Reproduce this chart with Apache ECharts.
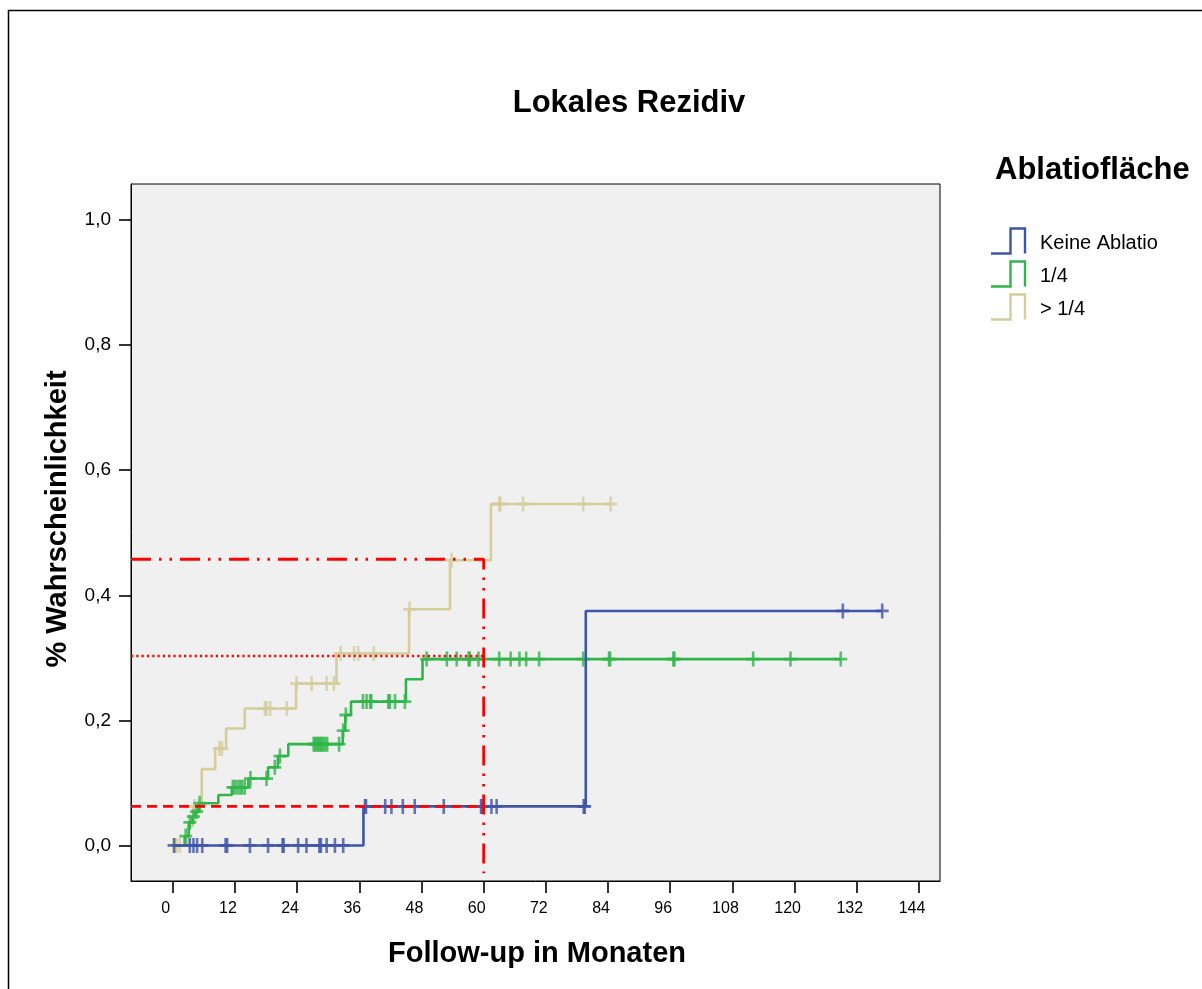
<!DOCTYPE html>
<html>
<head>
<meta charset="utf-8">
<script src="https://cdn.jsdelivr.net/npm/echarts@6/dist/echarts.min.js"></script>
<style>
  html, body { margin: 0; padding: 0; background: #ffffff; }
  #chart { width: 1202px; height: 989px; }
</style>
</head>
<body>
<div id="chart"></div>
<script>
// ---- Data: cumulative probability of local recurrence (Kaplan–Meier) ----
const groupNames = ['Keine Ablatio', '1/4', '> 1/4'];

// Keine Ablatio
const keineEventTimes  = [36.8, 79.7];
const keineEventValues = [0.0625, 0.375];
const keineCensored = [0.3, 3.3, 4.0, 4.7, 5.7, 10.2, 10.5, 14.9, 18.4, 21.2, 21.4, 24.2, 25.8,
  28.3, 28.6, 29.7, 31.3, 32.9, 37.1, 37.3, 41.0, 42.2, 44.4, 46.7, 52.3, 59.5, 59.7, 61.5,
  62.5, 79.3, 79.5, 129.3, 136.9];
const keineLastTime = 136.9;

// 1/4
const quarterEventTimes  = [2.3, 3.1, 3.8, 4.4, 5.0, 8.8, 11.4, 14.6, 18.4, 20.3, 22.3, 32.8, 33.3, 34.4, 45.0, 48.2];
const quarterEventValues = [0.015, 0.037, 0.046, 0.054, 0.0675, 0.0807, 0.093, 0.107, 0.125, 0.143,
  0.162, 0.1835, 0.2086, 0.230, 0.2657, 0.298];
const quarterCensored = [2.5, 3.3, 4.0, 4.6, 5.2, 11.6, 12.0, 12.5, 13.0, 13.4, 13.9, 15.0, 18.1,
  19.7, 20.7, 27.2, 27.5, 27.8, 28.1, 28.4, 28.7, 29.0, 29.4, 29.8, 32.1, 32.9, 33.4, 36.7, 37.4,
  38.1, 38.3, 41.6, 41.9, 42.9, 44.8, 49.0, 52.9, 54.8, 57.1, 57.3, 59.0, 63.0, 65.2, 66.9, 68.2,
  70.7, 79.2, 84.2, 84.4, 96.6, 96.8, 112.0, 119.2, 128.9];
const quarterLastTime = 128.9;

// > 1/4
const overEventTimes  = [3.0, 3.9, 5.6, 8.2, 10.3, 13.9, 23.8, 31.6, 45.6, 53.5, 61.4];
const overEventValues = [0.031, 0.0625, 0.122, 0.155, 0.187, 0.219, 0.259, 0.307, 0.3776, 0.456, 0.546];
const overCensored = [0.1, 0.8, 1.4, 4.2, 5.1, 9.0, 9.5, 17.8, 18.1, 18.8, 22.0, 23.9, 26.8,
  29.7, 31.1, 32.4, 35.0, 35.8, 38.8, 45.7, 53.8, 63.0, 63.2, 67.6, 79.2, 84.5];
const overLastTime = 84.5;

// Reference lines at 60 months
const refMonth = 60;
const refKeine60 = 0.0625;
const refQuarter60 = 0.303;
const refOver60 = 0.4576;
const refDropTo = -0.0445;

// Axis ticks
const xTickValues = [0, 12, 24, 36, 48, 60, 72, 84, 96, 108, 120, 132, 144];
const yTickValues = [0, 0.2, 0.4, 0.6, 0.8, 1.0];

// ---- Styling ----
const groupColors = ['#3f55a9', '#2fb54a', '#d5cd9b'];
const RED = '#ff0000';
const X_MIN = -8.05, X_MAX = 148.05;
const Y_MIN = -0.0568, Y_MAX = 1.0576;
const CROSS = 'path://M5.6,0H8.4V6.1H14V8.9H8.4V15H5.6V8.9H0V6.1H5.6Z';
const FONT = 'Liberation Sans, Arial, sans-serif';

function stepPoints(times, values, lastTime) {
  const pts = [[0, 0]];
  times.forEach((t, i) => pts.push([t, values[i]]));
  pts.push([lastTime, values[values.length - 1]]);
  return pts;
}
function valueAt(times, values, t) {
  let v = 0;
  for (let i = 0; i < times.length; i++) if (times[i] <= t) v = values[i];
  return v;
}

const groups = [
  { times: keineEventTimes, values: keineEventValues, cens: keineCensored, last: keineLastTime },
  { times: quarterEventTimes, values: quarterEventValues, cens: quarterCensored, last: quarterLastTime },
  { times: overEventTimes, values: overEventValues, cens: overCensored, last: overLastTime }
];
const groupZ = [6, 5, 4];

const series = [];
groups.forEach((g, i) => {
  series.push({
    name: groupNames[i],
    type: 'line',
    step: 'end',
    data: stepPoints(g.times, g.values, g.last),
    showSymbol: false,
    lineStyle: { color: groupColors[i], width: 2.6 },
    z: groupZ[i],
    silent: true
  });
  series.push({
    name: groupNames[i] + ' zensiert',
    type: 'scatter',
    data: g.cens.map(t => [t, valueAt(g.times, g.values, t)]),
    symbol: CROSS,
    symbolSize: [13, 15],
    itemStyle: { color: groupColors[i] },
    z: groupZ[i],
    silent: true
  });
});

series.push({
  type: 'line', data: [[X_MIN, refKeine60], [refMonth, refKeine60]],
  showSymbol: false, z: 10, silent: true,
  lineStyle: { color: RED, width: 2.8, type: [10, 6] }
});
series.push({
  type: 'line', data: [[X_MIN, refQuarter60], [refMonth, refQuarter60]],
  showSymbol: false, z: 10, silent: true,
  lineStyle: { color: RED, width: 2.4, type: [2.2, 3.1] }
});
series.push({
  type: 'line', data: [[X_MIN, refOver60], [refMonth, refOver60], [refMonth, refDropTo]],
  showSymbol: false, z: 10, silent: true,
  lineStyle: { color: RED, width: 2.8, type: [20, 8, 2.5, 8, 2.5, 8] }
});

// Legend drawn as step-shaped keys
const legendGraphics = [];
const legendRows = [241, 274, 307];
groupNames.forEach((name, i) => {
  const cy = legendRows[i];
  legendGraphics.push({
    type: 'polyline',
    shape: { points: [[991, cy + 12.5], [1010.5, cy + 12.5], [1010.5, cy - 12.5], [1025, cy - 12.5], [1025, cy + 12.5]] },
    style: { stroke: groupColors[i], lineWidth: 2.4, fill: null }
  });
  legendGraphics.push({
    type: 'text', x: 1040, y: cy + 2,
    style: { text: name, font: '20px ' + FONT, fill: '#000', textAlign: 'left', textVerticalAlign: 'middle' }
  });
});

const chart = echarts.init(document.getElementById('chart'), null, { renderer: 'canvas' });
chart.setOption({
  animation: false,
  backgroundColor: '#ffffff',
  grid: {
    left: 131, top: 184, width: 809, height: 697,
    show: true, backgroundColor: '#f0f0f0', borderColor: '#000000', borderWidth: 1
  },
  xAxis: {
    type: 'value', min: X_MIN, max: X_MAX,
    axisLine: { show: true, onZero: false, lineStyle: { color: '#000', width: 1 } },
    axisTick: { show: true, customValues: xTickValues, length: 12, lineStyle: { color: '#000', width: 1.6 } },
    axisLabel: {
      customValues: xTickValues, margin: 20, color: '#000', fontSize: 16, fontFamily: FONT,
      padding: [0, 14, 0, 0]
    },
    splitLine: { show: false }
  },
  yAxis: {
    type: 'value', min: Y_MIN, max: Y_MAX,
    axisLine: { show: true, onZero: false, lineStyle: { color: '#000', width: 1 } },
    axisTick: { show: true, customValues: yTickValues, length: 12, lineStyle: { color: '#000', width: 1.6 } },
    axisLabel: {
      customValues: yTickValues, margin: 20, color: '#000', fontSize: 19, fontFamily: FONT,
      formatter: v => v.toFixed(1).replace('.', ',')
    },
    splitLine: { show: false }
  },
  series: series,
  graphic: [
    {
      type: 'rect', silent: true, z: -1,
      shape: { x: 8.5, y: 10.5, width: 1400, height: 1200 },
      style: { fill: null, stroke: '#000', lineWidth: 1.5 }
    },
    {
      type: 'text', x: 629, y: 103,
      style: { text: 'Lokales Rezidiv', font: 'bold 31px ' + FONT, fill: '#000', textAlign: 'center', textVerticalAlign: 'middle' }
    },
    {
      type: 'text', x: 537, y: 954,
      style: { text: 'Follow-up in Monaten', font: 'bold 29px ' + FONT, fill: '#000', textAlign: 'center', textVerticalAlign: 'middle' }
    },
    {
      type: 'text', x: 58, y: 519, rotation: Math.PI / 2,
      style: { text: '% Wahrscheinlichkeit', font: 'bold 29px ' + FONT, fill: '#000', textAlign: 'center', textVerticalAlign: 'middle' }
    },
    {
      type: 'text', x: 995, y: 170,
      style: { text: 'Ablatiofläche', font: 'bold 31px ' + FONT, fill: '#000', textAlign: 'left', textVerticalAlign: 'middle' }
    }
  ].concat(legendGraphics)
});
</script>
</body>
</html>
